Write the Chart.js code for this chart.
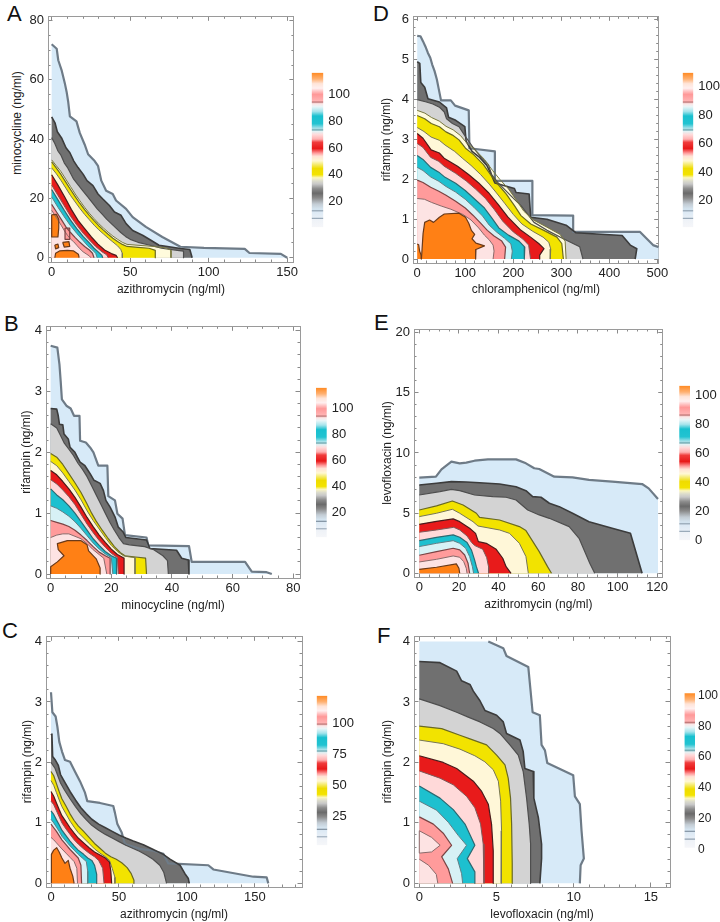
<!DOCTYPE html>
<html><head><meta charset="utf-8">
<script src="https://cdn.jsdelivr.net/npm/chart.js@4.4.1/dist/chart.umd.min.js"></script>
<style>
html,body{margin:0;padding:0;background:#fff;}
body{width:720px;height:922px;position:relative;overflow:hidden;font-family:'Liberation Sans',Arial,sans-serif;}
canvas{position:absolute;}
.lab{position:absolute;font-size:22px;line-height:22px;color:#111;}
.ytl{position:absolute;transform:translate(-50%,-50%) rotate(-90deg);font-size:12px;white-space:nowrap;color:#222;}
</style></head><body>
<div class="lab" style="left:7px;top:3px">A</div>
<div class="lab" style="left:373px;top:3px">D</div>
<div class="lab" style="left:4px;top:313px">B</div>
<div class="lab" style="left:374px;top:312px">E</div>
<div class="lab" style="left:2px;top:620px">C</div>
<div class="lab" style="left:377px;top:625px">F</div>
<div class="ytl" style="left:17px;top:123px">minocycline (ng/ml)</div>
<script>
// ---------------- DATA ----------------
// ranges of the frames (data units)
const xRangeA = [-2.34, 154.3], yRangeA = [-1.44, 81.43];
const xRangeB = [-1.54, 82.2],  yRangeB = [-0.065, 4.07];
const xRangeC = [-3.68, 184.6], yRangeC = [-0.06, 4.086];
const xRangeD = [-8.76, 502.8], yRangeD = [-0.099, 6.09];
const xRangeE = [-2.66, 122.8], yRangeE = [-0.31, 20.31];
const xRangeF = [-0.343, 16.24], yRangeF = [-0.06, 4.086];

// tick labels
const xTicksA = [0, 50, 100, 150],            yTicksA = [0, 20, 40, 60, 80];
const xTicksB = [0, 20, 40, 60, 80],          yTicksB = [0, 1, 2, 3, 4];
const xTicksC = [0, 50, 100, 150],            yTicksC = [0, 1, 2, 3, 4];
const xTicksD = [0, 100, 200, 300, 400, 500], yTicksD = [0, 1, 2, 3, 4, 5, 6];
const xTicksE = [0, 20, 40, 60, 80, 100, 120], yTicksE = [0, 5, 10, 15, 20];
const xTicksF = [0, 5, 10, 15],               yTicksF = [0, 1, 2, 3, 4];

// colour-bar tick labels and ranges
const cbTicksA = [20, 40, 60, 80, 100], cbRangeA = [1, 116];
const cbTicksB = [20, 40, 60, 80, 100], cbRangeB = [0.8, 115.6];
const cbTicksC = [25, 50, 75, 100],     cbRangeC = [1.8, 121.9];
const cbTicksD = [20, 40, 60, 80, 100], cbRangeD = [1.5, 109.7];
const cbTicksE = [0, 20, 40, 60, 80, 100], cbRangeE = [0, 106.5];
const cbTicksF = [0, 20, 40, 60, 80, 100], cbRangeF = [1.1, 101.5];

// contour levels: [band index (outer -> inner), boundary points [x, y(, 0 = no outline on segment ending here)], 'c' = closed]
const contoursA = [
 [0, [[0,72],[3.2,70.5],[4.2,66.6],[6.3,63.3],[8.4,58.8],[9.5,56],[10.5,52.7],[11.6,47.7],[15.8,46],[17.9,42.1],[21,38.2],[23.2,34.9],[27.4,32.6],[29.5,31],[31.6,26],[34.7,22.6],[38.9,21.5],[41,19.3],[47.4,16.5],[51.6,13.7],[60,10.4],[70.5,7],[82,3.7],[97,3.3],[123,3],[126,1.6],[146,1.3],[150,0]]],
 [1, [[0,47.5],[2.1,45.5],[3.6,42.5],[6.3,40.4],[9.1,37.1],[11.6,35.4],[14.1,32.6],[16.8,30.4],[20,28.2],[22.5,26],[26.3,24.3],[29.5,21.5],[32.6,19.8],[36.8,17.6],[40,15.4],[44.2,14.3],[47.4,11.5],[51.6,9.2],[57.9,7.6],[63.2,5.9],[68.4,4.2],[82.1,3.1],[88,2.8],[89.5,0]]],
 [2, [[0,40.5],[2,38.5],[4,36],[6,34.5],[8,32],[10,30.5],[12,28.5],[14,26.5],[17,24.5],[20,22.5],[23,20.5],[26,18.5],[29,16.5],[32,14.8],[35,13],[38,11.5],[41,10],[44,8.5],[47,7.2],[50,6.2],[55,5.2],[62,4.3],[70,3.2],[80,2.5],[84,2.2],[84,0]]],
 [3, [[0,33],[3,31],[6,29],[9,26.5],[12,24],[15,21.5],[18,19.2],[21,17],[24,15],[27,13.2],[30,11.5],[33,10],[36,8.6],[39,7.3],[42,6.2],[45,5.2],[48,4.5],[55,4.2],[65,3.8],[73,3.3],[76,2.5],[76,0]]],
 [4, [[0,32.3],[3,30.2],[6,28],[9,25.5],[12,23],[15,20.6],[18,18.3],[21,16.2],[24,14.3],[27,12.5],[30,10.8],[33,9.3],[36,7.9],[39,6.6],[42,5.5],[45,4.5],[48,3.8],[55,3.5],[62,3.2],[66,2.5],[66,0]]],
 [5, [[0,30.3],[3,28.3],[6,26],[9,23.5],[12,21],[15,18.8],[18,16.6],[21,14.6],[24,12.8],[27,11],[30,9.4],[33,8],[36,6.6],[39,5.3],[42,4],[44,2.8],[45,1.5],[45,0]]],
 [6, [[0,28],[4,24.5],[8.4,20.4],[12.5,16.3],[16.8,12.6],[21,9.8],[25.3,7],[29.5,4.6],[33.7,2.6],[38,1.4],[41,0.8],[42,0]]],
 [7, [[0,24.5],[4,21],[8,17.5],[12,14],[16,11],[20,8.3],[24,6],[28,3.8],[32,2],[35,1],[36,0]]],
 [8, [[0,23],[4,19.5],[8,16],[12,12.7],[16,9.8],[20,7.2],[24,5],[27,3.2],[30,1.8],[32,0.8],[32.5,0]]],
 [9, [[0,20.5],[4,17],[8,13.8],[12,10.8],[16,8.2],[20,5.8],[23,4],[26,2.6],[28,1.5],[29,0]]],
 [10, [[0,18],[3,15.5],[6,13],[9,10.5],[12,8.5],[15,6.8],[18,5.2],[21,3.8],[24,2.6],[26,1.5],[27,0]]],
 [11, [[0,16],[3,13.5],[6,11],[8,9.2],[10,7.6],[12,6.3],[14,5.4],[16,4.2],[18,3],[20,2],[22,1.3],[24,0.6],[25,0]]],
 [12, [[0,14.5],[3,14.6],[4.5,13],[4.5,10],[4,7],[0,7],[0,14.5]], 'c'],
 [10, [[8.5,10],[11.5,10],[11.5,6.2],[8.5,6.2],[8.5,10]], 'c'],
 [12, [[2,0],[2.5,1.5],[5,2.3],[10,2.5],[14,2.3],[17,1.2],[17.5,0]], 'c'],
 [12, [[2,4.3],[4,4.6],[4.5,3.4],[2.5,3],[2,4.3]], 'c'],
 [12, [[7,5.2],[11,5.4],[11.5,3.8],[8,3.6],[7,5.2]], 'c']
];

const contoursB = [
 [0, [[0,3.75],[2.2,3.72],[2.9,3.44],[3.3,3.17],[3.7,2.87],[5.3,2.76],[6.6,2.72],[7.7,2.6],[9.5,2.6],[9.7,2.19],[11.6,2.16],[13,2.08],[14.1,2.0],[15.7,1.78],[18.7,1.78],[19,1.28],[21.2,1.21],[22,0.99],[23.7,0.91],[24.5,0.64],[31.6,0.6],[32.2,0.47],[45.6,0.46],[46.5,0.2],[64.1,0.2],[66.3,0.04],[71.2,0.03],[72.9,0]]],
 [1, [[0,2.72],[2,2.71],[2.5,2.6],[2.9,2.46],[4,2.45],[4.4,2.3],[5.8,2.22],[6.4,2.08],[8,2.0],[8.8,1.92],[9.7,1.84],[11.3,1.78],[13,1.65],[14.3,1.54],[16.3,1.49],[17.4,1.37],[18.2,1.21],[19.6,1.1],[21.2,0.94],[22.3,0.77],[23.9,0.69],[24.8,0.6],[31.6,0.56],[32.7,0.42],[41.5,0.39],[43.2,0.26],[45.4,0.23],[45.6,0]]],
 [2, [[0,2.47],[2,2.4],[3,2.3],[4.5,2.15],[6,2.05],[7.5,1.95],[9,1.82],[10.5,1.72],[12,1.6],[13.5,1.45],[15,1.3],[16.5,1.15],[18,1.0],[19.5,0.85],[21,0.72],[22.5,0.6],[24,0.5],[26,0.48],[31,0.45],[34,0.4],[37,0.3],[38.5,0.22],[38.8,0]]],
 [4, [[0,1.98],[2,1.92],[4,1.8],[6,1.65],[8,1.5],[10,1.34],[12,1.15],[13.5,1.0],[15,0.87],[17,0.72],[19,0.58],[21,0.45],[23,0.35],[24.5,0.3],[28,0.28],[31.3,0.26],[31.6,0]]],
 [5, [[0,1.85],[2,1.78],[4,1.66],[6,1.52],[8,1.38],[10,1.22],[12,1.04],[14,0.88],[16,0.74],[18,0.6],[20,0.47],[22,0.37],[24,0.3],[26,0.28],[27.8,0.27],[27.8,0]]],
 [6, [[0,1.7],[2,1.63],[4,1.52],[6,1.4],[8,1.26],[10,1.1],[12,0.93],[14,0.78],[16,0.64],[18,0.52],[20,0.41],[22,0.32],[23.5,0.28],[24.2,0.26],[24.2,0]]],
 [7, [[0,1.55],[2,1.48],[4,1.38],[6,1.27],[8,1.14],[10,0.98],[12,0.82],[14,0.68],[16,0.55],[18,0.44],[20,0.34],[22,0.27],[22.3,0]]],
 [8, [[0,1.4],[2,1.3],[4,1.22],[6,1.12],[8,1.0],[10,0.86],[12,0.72],[14,0.58],[16,0.47],[18,0.37],[20,0.3],[21.7,0.26],[21.7,0]]],
 [9, [[0,1.12],[2,1.08],[4,1.02],[6,0.95],[8,0.86],[10,0.75],[12,0.63],[14,0.51],[16,0.41],[18,0.33],[20,0.27],[20.5,0]]],
 [10, [[0,0.88],[2,0.85],[4,0.82],[6,0.78],[8,0.72],[10,0.64],[12,0.55],[14,0.45],[16,0.36],[18,0.3],[19.6,0.26],[19.6,0]]],
 [11, [[0,0.6],[2,0.64],[4,0.66],[6,0.66],[8,0.62],[10,0.58],[12,0.5],[14,0.4],[16,0.32],[17.5,0.26],[18.5,0]]],
 [12, [[0,0],[0,0.12],[2.2,0.2],[4.4,0.3],[2.5,0.4],[2.2,0.5],[5.5,0.55],[9.9,0.55],[12,0.48],[12.5,0.38],[15,0.25],[16.3,0.1],[16.3,0]], 'c']
];

const contoursC = [
 [0, [[0,3.16],[1,2.83],[3.4,2.76],[4.7,2.59],[6.1,2.34],[8.1,2.18],[10.3,2.04],[14,2.01],[17.6,1.85],[21.3,1.69],[25,1.5],[26.7,1.36],[36,1.33],[45.8,1.28],[47,1.17],[48.8,0.98],[52,0.84],[54.4,0.65],[65.4,0.57],[75.2,0.54],[82.6,0.49],[86.3,0.33],[115.7,0.3],[119.4,0.23],[148.8,0.11],[158.6,0.1],[159.8,0]]],
 [1, [[0,2.47],[0.7,2.45],[1.2,2.1],[2.9,2.05],[5.4,1.95],[7,1.8],[10,1.68],[14,1.52],[18,1.38],[22,1.25],[26,1.15],[30,1.06],[35,0.98],[40,0.92],[45,0.86],[50,0.8],[55,0.75],[60.5,0.7],[67.9,0.64],[75.2,0.56],[82.6,0.48],[87.5,0.4],[94.9,0.3],[98.5,0.16],[101,0.08],[101.7,0]]],
 [2, [[0,2.0],[3,1.9],[5,1.78],[7,1.66],[10,1.54],[14,1.4],[18,1.27],[22,1.15],[26,1.05],[30,0.96],[35,0.88],[40,0.81],[45,0.75],[50,0.69],[55,0.63],[60,0.58],[65,0.53],[70,0.47],[75,0.4],[80,0.3],[83,0.18],[85,0]]],
 [4, [[0,1.85],[2,1.78],[4,1.65],[6,1.52],[8,1.4],[11,1.28],[14,1.15],[17,1.04],[20,0.95],[24,0.86],[28,0.76],[32,0.66],[36,0.58],[40,0.5],[44,0.44],[48,0.4],[52,0.34],[56,0.26],[59,0.16],[61,0.05],[61,0]]],
 [5, [[0,1.7],[2,1.62],[4,1.5],[6,1.38],[8,1.27],[11,1.15],[14,1.03],[17,0.93],[20,0.84],[24,0.75],[28,0.66],[32,0.57],[36,0.5],[40,0.44],[43,0.38],[45,0.25],[47,0.1],[47,0]]],
 [6, [[0,1.52],[2,1.44],[4,1.33],[6,1.22],[8,1.12],[11,1.02],[14,0.92],[17,0.83],[20,0.75],[24,0.67],[28,0.59],[32,0.52],[36,0.47],[40,0.42],[43,0.35],[44,0.2],[44.6,0]]],
 [7, [[0,1.36],[2,1.3],[4,1.2],[6,1.1],[8,1.0],[11,0.9],[14,0.81],[17,0.72],[20,0.65],[24,0.57],[28,0.5],[32,0.44],[35,0.38],[38,0.25],[39,0]]],
 [8, [[0,1.2],[2,1.14],[4,1.05],[6,0.97],[8,0.88],[11,0.79],[14,0.7],[17,0.62],[20,0.55],[24,0.48],[27,0.42],[30,0.38],[32,0.3],[33.6,0.15],[33.6,0]]],
 [9, [[0,1.06],[2,1.0],[4,0.93],[6,0.86],[8,0.78],[11,0.7],[14,0.62],[17,0.55],[20,0.48],[23,0.42],[26,0.36],[27,0.2],[27,0]]],
 [10, [[0,0.98],[2,0.92],[4,0.86],[6,0.79],[8,0.72],[11,0.64],[14,0.56],[17,0.49],[20,0.42],[22,0.3],[22.5,0]]],
 [11, [[0,0.76],[2,0.72],[4,0.67],[6,0.62],[8,0.57],[11,0.5],[14,0.43],[17,0.36],[19,0.25],[19.5,0]]],
 [12, [[0.3,0],[0.3,0.48],[2,0.55],[4.2,0.59],[6,0.52],[8,0.42],[10.3,0.33],[12.7,0.38],[14,0.25],[16,0.12],[17,0]], 'c']
];

const contoursD = [
 [0, [[0,5.6],[6.8,5.59],[12.2,5.46],[16.8,5.34],[22.3,5.17],[27.2,5.05],[31.2,4.88],[36,4.72],[40.8,4.51],[44.8,4.27],[49.6,3.98],[70,3.98],[78.8,3.85],[107.3,3.73],[108.7,2.78],[161.7,2.7],[161.7,1.96],[239.8,1.96],[239.8,1.1],[324.7,1.09],[324.7,0.68],[464,0.68],[491,0.35],[503,0.3],[503,0,0]]],
 [1, [[0,4.95],[5.4,4.91],[7.5,4.43],[15.6,4.31],[22.4,4.02],[46.2,3.94],[61.1,3.79],[65.2,3.56],[80.2,3.48],[99.2,3.32],[101.9,2.95],[114.1,2.7],[130,2.55],[145,2.35],[155,2.1],[161.7,1.91],[202.4,1.77],[205.8,1.67],[233,1.63],[236.4,1.05],[270,1.0],[310,0.85],[330,0.66],[426.6,0.59],[443.6,0.35],[457.2,0.26],[453.8,0]]],
 [2, [[0,4.0],[19,3.94],[32.6,3.89],[46.2,3.81],[56.4,3.69],[61.1,3.52],[73.4,3.4],[87,3.32],[100.5,3.07],[117.5,2.78],[134.5,2.53],[148.1,2.37],[154.9,2.12],[168.5,1.91],[195.7,1.58],[216,1.34],[229.6,1.13],[243.2,0.92],[270.4,0.72],[304.3,0.51],[338.3,0.31],[345.1,0]]],
 [3, [[0,3.73],[16,3.66],[30,3.55],[46,3.46],[60,3.33],[75,3.24],[90,3.1],[104,2.9],[120,2.75],[140,2.5],[157,2.22],[172,2.0],[190,1.76],[207,1.47],[222,1.2],[242,0.98],[270,0.8],[297,0.62],[308,0.45],[310,0]]],
 [4, [[0,3.6],[15.6,3.52],[29.2,3.4],[46.2,3.32],[59.8,3.19],[73.4,3.11],[87,2.99],[100.5,2.78],[117.5,2.62],[137.9,2.37],[154.9,2.08],[168.5,1.87],[185.5,1.63],[202.4,1.34],[216,1.09],[236.4,0.88],[263.6,0.72],[290.8,0.55],[301,0.39],[304.3,0]]],
 [5, [[0,3.3],[14,3.2],[29,3.06],[46,2.98],[58,2.86],[78,2.7],[95,2.52],[112,2.35],[132,2.12],[150,1.88],[165,1.66],[182,1.4],[200,1.12],[218,0.88],[240,0.7],[262,0.55],[274,0.42],[278,0.25],[277,0]]],
 [6, [[0,3.15],[12,3.03],[29,2.74],[46,2.66],[56,2.53],[84,2.33],[107,2.12],[128,1.91],[148,1.67],[168,1.38],[189,1.05],[216,0.72],[236,0.55],[253,0.39],[264,0.26],[255,0.1],[255,0]]],
 [7, [[0,2.9],[12,2.8],[28,2.55],[45,2.45],[56,2.33],[80,2.15],[102,1.96],[122,1.75],[142,1.52],[160,1.25],[178,0.95],[200,0.68],[220,0.5],[232,0.35],[236,0]]],
 [8, [[0,2.6],[12,2.5],[28,2.3],[45,2.18],[58,2.05],[80,1.9],[100,1.72],[120,1.5],[140,1.28],[156,1.02],[170,0.78],[190,0.6],[212,0.45],[224,0.3],[223,0]]],
 [9, [[0,2.3],[12,2.22],[28,2.06],[45,1.95],[60,1.82],[80,1.68],[100,1.5],[118,1.3],[136,1.08],[150,0.85],[165,0.68],[182,0.52],[195,0.38],[198,0.2],[196,0]]],
 [10, [[0,1.98],[12,1.92],[28,1.8],[45,1.7],[60,1.6],[80,1.45],[100,1.28],[116,1.1],[132,0.9],[146,0.72],[160,0.58],[176,0.45],[184,0.3],[182,0]]],
 [11, [[0,1.52],[15,1.5],[30,1.42],[50,1.33],[70,1.25],[95,1.12],[112,0.98],[128,0.78],[140,0.6],[150,0.48],[158,0.35],[160,0.2],[158,0]]],
 [12, [[8.8,0],[12.2,0.64],[15.6,0.92],[25.8,0.98],[34,0.92],[46.2,1.05],[56.4,1.13],[87,1.15],[100.5,1.05],[107.3,0.9],[112.8,0.72],[119.6,0.62],[114.1,0.51],[122.3,0.4],[140,0.33],[122.3,0.24],[121,0.14],[122.3,0]], 'c'],
 [12, [[0,0.38],[3,0.36],[5,0.2],[8,0.1],[8.5,0]]]
];

const contoursE = [
 [0, [[0,7.95],[8.4,8.03],[11.2,8.64],[16.2,9.28],[20.4,9.14],[23.7,9.2],[27.9,9.36],[34.6,9.47],[48.8,9.47],[53.8,9.14],[58,8.73],[60.5,8.67],[68.1,8.03],[77.3,7.98],[85.6,7.76],[97.3,7.62],[112.4,7.42],[115.7,7.06],[120.4,6.18],[120.4,0,0]]],
 [1, [[0,7.34],[8.7,7.48],[16.2,7.62],[23.7,7.59],[30.4,7.53],[40.5,7.42],[48.8,7.2],[53.8,6.87],[57.2,6.37],[61.4,6.32],[65.6,5.82],[70.6,5.54],[77.3,4.99],[85.6,4.29],[97.3,3.74],[106.5,3.32],[112.4,0]]],
 [2, [[0,6.51],[10.4,6.79],[16.2,6.98],[20.4,6.87],[27.9,6.51],[37.1,6.37],[43.8,6.32],[48.8,6.09],[54.7,5.26],[60.5,4.85],[65.6,4.57],[75.6,3.88],[80.6,2.91],[86,0.83],[88.5,0]]],
 [4, [[0,5.26],[8.7,5.6],[16.7,6.01],[22.1,5.68],[28.8,4.99],[30.4,4.65],[40.5,4.43],[50.5,3.88],[53.8,3.55],[60.5,1.8],[64.7,0.55],[66.7,0]]],
 [5, [[0,4.71],[8.7,4.99],[16.7,5.32],[20.4,4.99],[27.1,4.29],[29.6,3.93],[40.5,3.6],[45.5,3.32],[50.5,2.49],[53.8,1.39],[55,0]]],
 [6, [[0,4.07],[8.7,4.32],[17.1,4.52],[20.4,4.29],[25.4,3.74],[28.4,3.32],[29.8,2.63],[33.8,2.49],[38.8,1.99],[42.1,1.25],[43.8,0.55],[46.3,0]]],
 [7, [[0,3.41],[8.7,3.6],[17.4,3.82],[20.4,3.6],[24.1,3.1],[26.4,2.55],[28,2.3],[32,2.0],[34,1.3],[35,0.5],[35,0]]],
 [8, [[0,2.71],[8.7,2.99],[17.1,3.19],[20.4,2.99],[24.1,2.55],[26.3,1.94],[27.9,1.11],[28.8,0.55],[29.9,0]]],
 [9, [[0,2.22],[8.7,2.49],[17.1,2.71],[20.4,2.49],[23.4,2.08],[25.4,1.39],[26.8,0.55],[27.4,0]]],
 [10, [[0,1.5],[8.7,1.8],[17.1,2.08],[20.4,1.94],[22.9,1.52],[24.6,0.83],[25.4,0]]],
 [11, [[0,0.94],[8.7,1.16],[17.1,1.44],[20.4,1.33],[22.4,0.97],[23.7,0.42],[24.1,0]]],
 [12, [[0,0.33],[8.7,0.5],[18.7,0.78],[20,0.42],[20.4,0]]]
];

const contoursF = [
 [0, [[0,4],[4.47,4,0],[5.44,3.89],[5.65,3.76],[7.06,3.58],[7.21,3.18],[7.34,2.83],[7.81,2.78],[7.92,2.29],[8.14,2.2],[8.29,1.99],[9.97,1.79],[10.08,1.44],[10.4,1.31],[10.51,0.87],[10.66,0.41],[10.45,0.3],[10.4,0]]],
 [1, [[0,3.67],[1.34,3.65],[2.42,3.51],[2.74,3.35],[3.28,3.29],[3.5,3.18],[3.93,3.02],[4.25,2.86],[5.01,2.78],[5.44,2.67],[5.65,2.48],[6.52,2.37],[6.73,2.18],[6.84,1.9],[7.38,1.85],[7.42,1.41],[7.71,1.09],[7.92,0.65],[7.92,0.41],[7.81,0]]],
 [2, [[0,3.05],[1.34,2.94],[2.42,2.83],[3.17,2.75],[3.93,2.67],[4.79,2.56],[5.22,2.48],[5.87,2.29],[6.41,2.12],[6.73,1.85],[6.95,1.41],[7.12,0.98],[7.21,0.65],[7.21,0]]],
 [4, [[0,2.6],[1.45,2.56],[2.63,2.45],[3.28,2.39],[4.36,2.29],[5.01,2.12],[5.55,1.96],[5.76,1.74],[5.91,1.41],[5.98,0.98],[6.02,0.33],[6.02,0]]],
 [5, [[0,2.37],[1.55,2.31],[2.63,2.22],[3.6,2.11],[4.25,2.01],[4.79,1.88],[5.12,1.69],[5.27,1.36],[5.33,0.87],[5.31,0]]],
 [6, [[0,2.11],[1.55,2.0],[2.42,1.9],[3.5,1.69],[4.04,1.52],[4.47,1.31],[4.68,0.98],[4.79,0.54],[4.79,0]]],
 [7, [[0,1.86],[1.34,1.74],[2.2,1.63],[3.06,1.44],[3.6,1.25],[3.97,0.98],[4.14,0.65],[4.19,0]]],
 [8, [[0,1.61],[1.34,1.41],[2.2,1.22],[2.96,0.98],[3.6,0.63],[3.11,0.41],[3.6,0.19],[3.6,0]]],
 [9, [[0,1.36],[1.12,1.21],[1.88,1.01],[2.53,0.79],[3.06,0.63],[2.46,0.41],[2.74,0.16],[2.81,0]]],
 [10, [[0,1.1],[0.91,0.98],[1.55,0.83],[2.09,0.63],[1.45,0.44],[1.88,0.24],[2.16,0]]],
 [11, [[0,0.87],[0.8,0.76],[1.35,0.63],[0.8,0.52],[0,0.5],[0,0.87]], 'c'],
 [11, [[0,0.4],[0.6,0.3],[1.1,0.15],[1.2,0]]]
];

// ---------------- STYLE ----------------
const FONT = "'Liberation Sans', Arial, Helvetica, sans-serif";
const bandColors = ['#d7eaf8','#707070','#d3d3d3','#fffbdc','#f2e300','#fff7d8','#e81b1b','#ffd9d9','#1dc0cf','#d7f1f5','#ff9b9b','#fde3e3','#ff8015'];
const bandLine   = ['#6e7b87','#3c3c3c','#4e4e4e','#77773f','#6a6a22','#777755','#4a1c1c','#7d5a5a','#2c6a72','#607f86','#7a4444','#8a6a6a','#6a3a1a'];
const bandLineW  = [2.2, 1.6, 1.2, 1, 1.2, 1, 1.2, 1, 1.2, 1, 1.2, 1, 1.2];
const cbStops = [
 [0.00,'#f5f6f9'],[0.05,'#eef2f7'],[0.055,'#8fa0b0'],[0.065,'#e6eef6'],[0.10,'#dce9f4'],[0.105,'#8797a6'],[0.115,'#d6e6f2'],
 [0.15,'#c3ccd4'],[0.19,'#8a8a8a'],[0.22,'#6a6a6a'],[0.25,'#8c8c8c'],[0.28,'#c8c8c8'],[0.30,'#dcdccc'],[0.32,'#fbf6c0'],
 [0.34,'#f3e300'],[0.38,'#efdc00'],[0.41,'#f6ed80'],[0.43,'#fff8d4'],[0.46,'#ffe2d6'],[0.48,'#ff9a9a'],[0.51,'#e81818'],
 [0.55,'#f03c3c'],[0.57,'#ffb0b0'],[0.60,'#ffdada'],[0.62,'#e4f2f4'],[0.63,'#70a8b0'],[0.64,'#a8e2ea'],[0.67,'#22c3d1'],
 [0.72,'#18c0cf'],[0.75,'#a6e4ec'],[0.78,'#e8f6f8'],[0.80,'#ffe6e6'],[0.81,'#c07878'],[0.82,'#ffb2b2'],[0.86,'#ff9898'],
 [0.88,'#ffc2c2'],[0.90,'#fff0f0'],[0.93,'#ffe4d8'],[0.96,'#ffb070'],[1.00,'#ff8a22']
];

const panels = [
 {c: contoursA, xr: xRangeA, yr: yRangeA, xt: xTicksA, yt: yTicksA, xm: 10, ym: 5, xtitle: 'azithromycin (ng/ml)', ytitle: null,
  box: [0,0,305,300], area: [48,14,296,262], xtpad: 3.5, ytpad: 10,
  cb: {ticks: cbTicksA, range: cbRangeA, box: [310,60,45,180], bar: [311.7,68.3,323.3,229.3], fs: 13, pad: 5}},
 {c: contoursB, xr: xRangeB, yr: yRangeB, xt: xTicksB, yt: yTicksB, xm: 5, ym: 0.2, xtitle: 'minocycline (ng/ml)', ytitle: 'rifampin (ng/ml)',
  box: [0,310,310,305], area: [46,325,300,578], xtpad: 2.3, ytpad: 19.5,
  cb: {ticks: cbTicksB, range: cbRangeB, box: [314,375,46,175], bar: [316,383.3,326.7,542.7], fs: 13, pad: 5}},
 {c: contoursC, xr: xRangeC, yr: yRangeC, xt: xTicksC, yt: yTicksC, xm: 10, ym: 0.2, xtitle: 'azithromycin (ng/ml)', ytitle: 'rifampin (ng/ml)',
  box: [0,620,312,302], area: [46,633,302,887], xtpad: 0.5, ytpad: 20,
  cb: {ticks: cbTicksC, range: cbRangeC, box: [314,683,46,175], bar: [316.7,691,327.3,850], fs: 13, pad: 5}},
 {c: contoursD, xr: xRangeD, yr: yRangeD, xt: xTicksD, yt: yTicksD, xm: 20, ym: 0.2, xtitle: 'chloramphenicol (ng/ml)', ytitle: 'rifampin (ng/ml)',
  box: [365,0,310,300], area: [413,13,664,263], xtpad: 3.5, ytpad: 14.5,
  cb: {ticks: cbTicksD, range: cbRangeD, box: [680,60,40,180], bar: [682.7,68.3,693.3,229.3], fs: 13, pad: 5}},
 {c: contoursE, xr: xRangeE, yr: yRangeE, xt: xTicksE, yt: yTicksE, xm: 5, ym: 1, xtitle: 'azithromycin (ng/ml)', ytitle: 'levofloxacin (ng/ml)',
  box: [365,310,310,305], area: [414,329,664,577], xtpad: 3.3, ytpad: 15,
  cb: {ticks: cbTicksE, range: cbRangeE, box: [677,373,43,180], bar: [679.3,381.7,690,545], fs: 13, pad: 5}},
 {c: contoursF, xr: xRangeF, yr: yRangeF, xt: xTicksF, yt: yTicksF, xm: 1, ym: 0.2, xtitle: 'levofloxacin (ng/ml)', ytitle: 'rifampin (ng/ml)',
  box: [365,620,315,302], area: [414,633,670,887], xtpad: 0.5, ytpad: 15,
  cb: {ticks: cbTicksF, range: cbRangeF, box: [682,683,38,175], bar: [684.5,691,695,850], fs: 12, pad: 3}}
];

Chart.defaults.font.family = FONT;
Chart.defaults.animation = false;

function newCanvas(box) {
  const cv = document.createElement('canvas');
  cv.width = box[2]; cv.height = box[3];
  cv.style.left = box[0] + 'px'; cv.style.top = box[1] + 'px';
  cv.style.width = box[2] + 'px'; cv.style.height = box[3] + 'px';
  document.body.appendChild(cv);
  return cv;
}
const setTicks = arr => s => { s.ticks = arr.map(v => ({value: v})); };
const zeroSize = s => { if (s.isHorizontal()) s.height = 0; else s.width = 0; };

function makePanel(p) {
  const cv = newCanvas(p.box);
  const [L, T, R, B] = p.area;
  const leftW = L - p.box[0];
  const padTop = T - p.box[1];
  const padRight = p.box[0] + p.box[2] - R;
  const botH = p.box[1] + p.box[3] - B;

  const fills = [], strokes = [];
  p.c.forEach(([band, pts, kind], i) => {
    const P = pts.map(q => ({x: q[0], y: q[1]}));
    const Fd = kind === 'c' ? P.slice() : P.concat([{x: P[0].x, y: P[P.length - 1].y}]);
    fills.push({type: 'line', data: Fd, fill: 'shape', backgroundColor: bandColors[band],
      borderColor: 'rgba(0,0,0,0)', borderWidth: 0, pointRadius: 0, tension: 0, order: 2000 - i});
    const hidden = pts.map(q => q[2] === 0);
    strokes.push({type: 'line', data: P, fill: false, borderColor: bandLine[band], borderWidth: bandLineW[band],
      pointRadius: 0, tension: 0, borderJoinStyle: 'round', order: 1000 - i,
      segment: {borderColor: c => hidden[c.p1DataIndex] ? 'rgba(0,0,0,0)' : undefined}});
  });

  const frame = {display: true, color: '#9a9a9a', width: 1};
  const gMaj = {display: true, drawOnChartArea: false, drawTicks: true, tickLength: -4.5, tickColor: '#8a8a8a', tickWidth: 1};
  const gMin = {display: true, drawOnChartArea: false, drawTicks: true, tickLength: -2.5, tickColor: '#8a8a8a', tickWidth: 1};
  const tickFont = {family: FONT, size: 13};
  const titleFont = {family: FONT, size: 12};
  const lin = (pos, r, w) => ({type: 'linear', position: pos, min: r[0], max: r[1], weight: w});

  const scales = {
    x: Object.assign(lin('bottom', p.xr, 1), {
      afterBuildTicks: setTicks(p.xt), afterFit: s => { s.height = botH; },
      grid: gMaj, border: frame,
      ticks: {autoSkip: false, maxRotation: 0, font: tickFont, color: '#222', padding: 6.7},
      title: {display: true, text: p.xtitle, font: titleFont, color: '#222', padding: {top: 0, bottom: p.xtpad}}}),
    xm: Object.assign(lin('bottom', p.xr, 0), {ticks: {display: false, stepSize: p.xm, includeBounds: false}, grid: gMin, border: {display: false}, afterFit: zeroSize}),
    xt: Object.assign(lin('top', p.xr, 1), {afterBuildTicks: setTicks(p.xt), ticks: {display: false}, grid: gMaj, border: frame, afterFit: zeroSize}),
    xtm: Object.assign(lin('top', p.xr, 0), {ticks: {display: false, stepSize: p.xm, includeBounds: false}, grid: gMin, border: {display: false}, afterFit: zeroSize}),
    y: Object.assign(lin('left', p.yr, 1), {
      afterBuildTicks: setTicks(p.yt), afterFit: s => { s.width = leftW; },
      grid: gMaj, border: frame,
      ticks: {autoSkip: false, font: tickFont, color: '#222', padding: 8.5},
      title: {display: !!p.ytitle, text: p.ytitle || '', font: titleFont, color: '#222', padding: {top: p.ytpad, bottom: 0}}}),
    ym: Object.assign(lin('left', p.yr, 0), {ticks: {display: false, stepSize: p.ym, includeBounds: false}, grid: gMin, border: {display: false}, afterFit: zeroSize}),
    yr: Object.assign(lin('right', p.yr, 1), {afterBuildTicks: setTicks(p.yt), ticks: {display: false}, grid: gMaj, border: frame, afterFit: zeroSize}),
    yrm: Object.assign(lin('right', p.yr, 0), {ticks: {display: false, stepSize: p.ym, includeBounds: false}, grid: gMin, border: {display: false}, afterFit: zeroSize})
  };

  new Chart(cv, {
    type: 'line',
    data: {datasets: fills.concat(strokes)},
    options: {
      responsive: false, maintainAspectRatio: false, animation: false, events: [],
      layout: {padding: {left: 0, top: padTop, right: padRight, bottom: 0}},
      plugins: {legend: {display: false}, tooltip: {enabled: false}},
      scales: scales
    }
  });
}

function makeBar(cb) {
  const cv = newCanvas(cb.box);
  const [cl, ct, cw, ch] = cb.box;
  const [bl, bt, br, bb] = cb.bar;
  const grad = c => {
    const a = c.chart.chartArea;
    if (!a) return '#ddd';
    const g = c.chart.ctx.createLinearGradient(0, a.bottom, 0, a.top);
    cbStops.forEach(([f, col]) => g.addColorStop(f, col));
    return g;
  };
  new Chart(cv, {
    type: 'bar',
    data: {labels: [''], datasets: [{data: [[cb.range[0], cb.range[1]]], backgroundColor: grad, borderWidth: 0,
      barPercentage: 1, categoryPercentage: 1}]},
    options: {
      responsive: false, maintainAspectRatio: false, animation: false, events: [],
      layout: {padding: {left: bl - cl, top: bt - ct, bottom: ct + ch - bb, right: 0}},
      plugins: {legend: {display: false}, tooltip: {enabled: false}},
      scales: {
        x: {display: false},
        y: {position: 'right', min: cb.range[0], max: cb.range[1],
            afterBuildTicks: setTicks(cb.ticks), afterFit: s => { s.width = cl + cw - br; },
            grid: {display: false, drawTicks: false}, border: {display: false},
            ticks: {font: {family: FONT, size: cb.fs}, color: '#222', padding: cb.pad}}
      }
    }
  });
}

panels.forEach(p => { makePanel(p); makeBar(p.cb); });
</script>
</body></html>
